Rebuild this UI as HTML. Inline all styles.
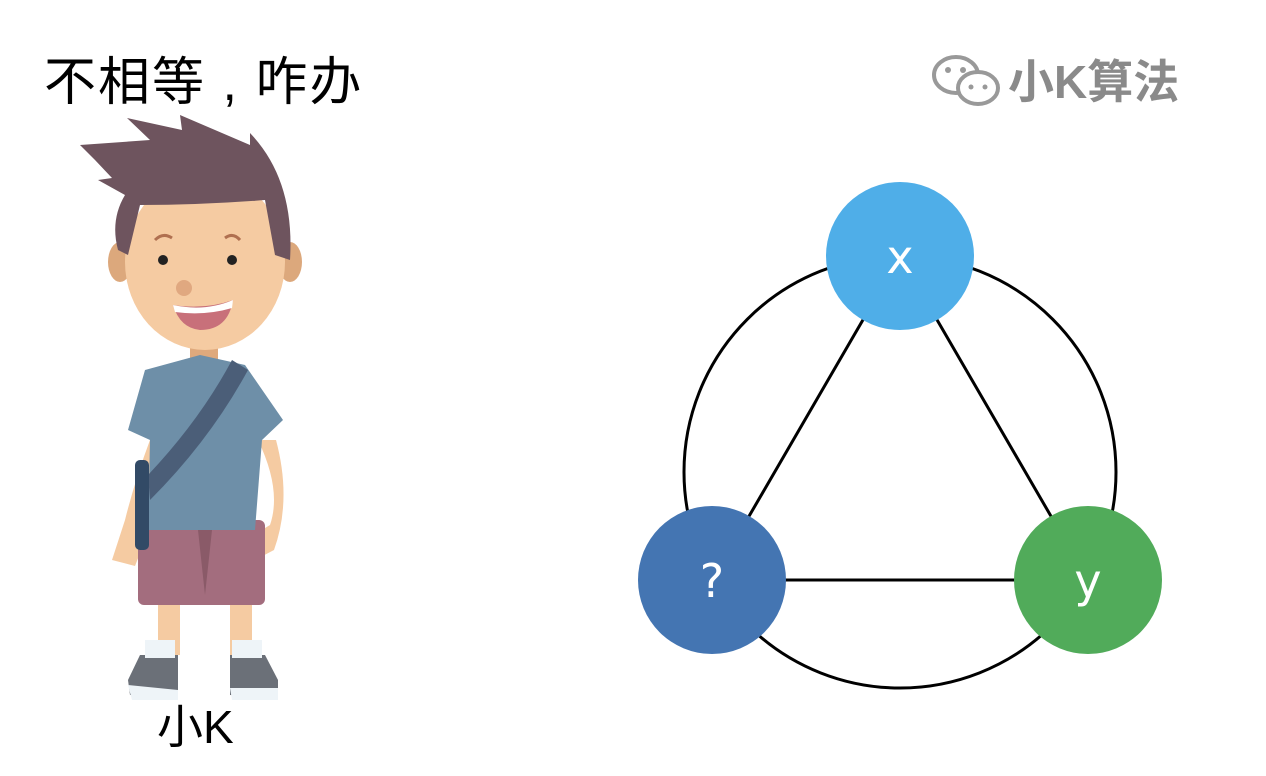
<!DOCTYPE html>
<html><head><meta charset="utf-8"><style>
html,body{margin:0;padding:0;background:#fff;width:1266px;height:776px;overflow:hidden}
svg{display:block}
</style></head><body>
<svg width="1266" height="776" viewBox="0 0 1266 776" xmlns="http://www.w3.org/2000/svg">
<text x="44" y="100" font-family="Liberation Sans, Noto Sans CJK SC, sans-serif" font-size="52" letter-spacing="2" fill="#000">不相等 , 咋办</text>
<!-- wechat logo -->
<g fill="none" stroke="#999" stroke-width="4">
<ellipse cx="956" cy="75" rx="22" ry="18"/>
<ellipse cx="978" cy="88" rx="20" ry="16" fill="#fff"/>
</g>
<circle cx="948" cy="70" r="3" fill="#999"/><circle cx="963" cy="70" r="3" fill="#999"/>
<circle cx="971" cy="87" r="2.5" fill="#999"/><circle cx="985" cy="87" r="2.5" fill="#999"/>
<text x="1008" y="98" font-family="Liberation Sans, Noto Sans CJK SC, sans-serif" font-size="46" font-weight="bold" fill="#8a8a8a">小K算法</text>

<!-- character -->
<path d="M150 440 Q135 480 125 520 L112 560 L135 566 L142 548 Q152 500 162 450Z" fill="#f5cba2"/>
<path d="M258 440 Q282 490 270 525 L245 540 L255 560 L274 550 Q292 500 276 440Z" fill="#f5cba2"/>
<rect x="158" y="595" width="22" height="60" fill="#f5cba2"/>
<rect x="230" y="595" width="22" height="60" fill="#f5cba2"/>
<rect x="138" y="520" width="127" height="85" rx="6" fill="#a36d7e"/>
<path d="M198 530 L205 595 L212 530Z" fill="#8a5a68"/>
<rect x="190" y="330" width="28" height="40" fill="#dfa97c"/>
<path d="M145 370 L200 355 L245 365 L283 420 L262 440 L255 530 L148 530 L150 440 L128 430Z" fill="#6e8fa8"/>
<path d="M232 360 L248 370 Q210 440 150 500 L148 475 Q200 420 232 360Z" fill="#4b5e78"/>
<rect x="135" y="460" width="14" height="90" rx="5" fill="#324a66"/>
<ellipse cx="120" cy="262" rx="12" ry="20" fill="#dca87c"/>
<ellipse cx="290" cy="262" rx="12" ry="20" fill="#dca87c"/>
<ellipse cx="205" cy="262" rx="80" ry="88" fill="#f5cba2"/>
<path d="M80 145 L150 140 L127 118 L182 130 L180 115 L250 145 L250 133 Q295 180 290 260 L275 255 L265 200 Q200 205 140 205 L128 255 L118 250 Q110 220 125 195 L98 180 L112 178 L95 160 Z" fill="#6e545e"/>
<circle cx="163" cy="260" r="5" fill="#222"/><circle cx="232" cy="260" r="5" fill="#222"/>
<path d="M155 240 Q163 232 172 238" stroke="#b07050" stroke-width="3" fill="none"/>
<path d="M225 238 Q233 232 240 240" stroke="#b07050" stroke-width="3" fill="none"/>
<circle cx="184" cy="288" r="8" fill="#e0a880"/>
<path d="M173 305 Q205 310 233 300 Q228 330 200 330 Q180 328 173 305Z" fill="#c8707a"/>
<path d="M173 305 Q205 312 233 300 L232 308 Q205 316 175 312Z" fill="#fff"/>
<path d="M128 680 L140 655 L178 655 L178 695 L130 695Z" fill="#6b7078"/>
<path d="M128 685 L178 690 L178 700 L132 700Z" fill="#eef4f8"/>
<path d="M230 655 L265 655 L278 680 L278 698 L230 695Z" fill="#6b7078"/>
<path d="M230 688 L278 688 L278 700 L232 700Z" fill="#eef4f8"/>
<rect x="145" y="640" width="30" height="18" fill="#eef4f8"/>
<rect x="232" y="640" width="30" height="18" fill="#eef4f8"/>
<text x="157" y="743" font-family="Liberation Sans, Noto Sans CJK SC, sans-serif" font-size="46" fill="#000">小K</text>

<!-- diagram -->
<circle cx="900" cy="472" r="216" fill="none" stroke="#000" stroke-width="3"/>
<path d="M900 256 L712 580 L1088 580 Z" fill="none" stroke="#000" stroke-width="3"/>
<circle cx="900" cy="256" r="74" fill="#4faee8"/>
<circle cx="712" cy="580" r="74" fill="#4475b2"/>
<circle cx="1088" cy="580" r="74" fill="#51ab5a"/>
<g font-family="DejaVu Sans, Liberation Sans, sans-serif" font-size="46" fill="#fff" text-anchor="middle">
<text x="900" y="273">x</text>
<text x="712" y="597">?</text>
<text x="1088" y="597">y</text>
</g>
</svg>
</body></html>
